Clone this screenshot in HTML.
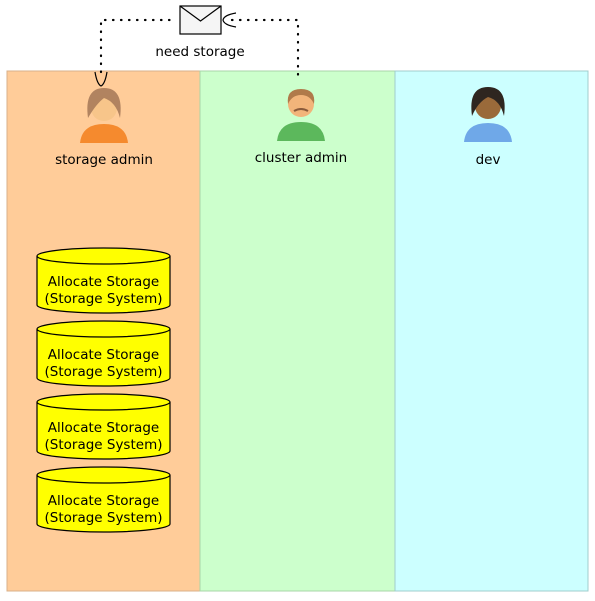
<!DOCTYPE html>
<html><head><meta charset="utf-8"><style>
html,body{margin:0;padding:0;background:#fff;}
svg{display:block;font-family:"DejaVu Sans","Liberation Sans",sans-serif;}
</style></head><body>
<svg width="595" height="601" viewBox="0 0 595 601" xmlns="http://www.w3.org/2000/svg">
<defs>
<g id="cyl">
<path d="M37,8 L37,57 A66.5,8 0 0 0 170,57 L170,8" fill="#ffff00" stroke="#000" stroke-width="1.2"/>
<ellipse cx="103.5" cy="8" rx="66.5" ry="8" fill="#ffff00" stroke="#000" stroke-width="1.2"/>
<text x="103.5" y="38" font-size="13.5" text-anchor="middle" fill="#000">Allocate Storage</text>
<text x="103.5" y="55" font-size="13.5" text-anchor="middle" fill="#000">(Storage System)</text>
</g>
</defs>
<rect x="7" y="71" width="193" height="520" fill="#ffcc99" stroke="#d9b08a"/>
<rect x="200" y="71" width="195" height="520" fill="#ccffcc" stroke="#a8d6a8"/>
<rect x="395" y="71" width="193" height="520" fill="#ccffff" stroke="#a0cccc"/>
<path d="M101,72 L101,20 L176,20" fill="none" stroke="#000" stroke-width="2.2" stroke-dasharray="0.5 7.5" stroke-linecap="round"/>
<path d="M232,20 L298,20 L298,80" fill="none" stroke="#000" stroke-width="2.2" stroke-dasharray="0.5 7.5" stroke-linecap="round"/>
<path d="M95,72 Q97,84 101,86 Q105,84 107,72" fill="none" stroke="#000" stroke-width="1.2"/>
<path d="M236,13 Q224,15 223,20 Q224,25 236,27" fill="none" stroke="#000" stroke-width="1.2"/>
<rect x="180" y="6" width="41" height="28" fill="#f5f5f5" stroke="#000" stroke-width="1.2"/>
<path d="M180,6 L200.5,21 L221,6" fill="none" stroke="#000" stroke-width="1.2"/>
<text x="200" y="56" font-size="13.5" text-anchor="middle">need storage</text>
<g>
<path d="M80,143 Q82,124 104,124 Q126,124 128,143 Z" fill="#f58a2e"/>
<circle cx="104" cy="108" r="13" fill="#f7c58a"/>
<path d="M88,118 Q84,88 104,88 Q124,88 120,118 Q116,102 104,98 Q96,104 88,118Z" fill="#a87b5a" opacity="0.9"/>
<text x="104" y="164" font-size="13.5" text-anchor="middle">storage admin</text>
</g>
<g>
<path d="M277,141 Q279,122 301,122 Q323,122 325,141 Z" fill="#5cb85c"/>
<circle cx="301" cy="104" r="13" fill="#f2b47a"/>
<path d="M288,104 Q286,89 301,89 Q316,89 314,104 Q310,95 301,95 Q292,95 288,104Z" fill="#b07a4a"/>
<path d="M294,111 Q301,107 308,111" fill="none" stroke="#8a5a3a" stroke-width="2"/>
<text x="301" y="162" font-size="13.5" text-anchor="middle">cluster admin</text>
</g>
<g>
<path d="M464,142 Q466,123 488,123 Q510,123 512,142 Z" fill="#6fa8e8"/>
<circle cx="488" cy="106" r="13" fill="#9a6a3a"/>
<path d="M472,116 Q468,87 488,87 Q508,87 504,116 Q500,100 488,97 Q478,102 472,116Z" fill="#2e2620"/>
<text x="488" y="164" font-size="13.5" text-anchor="middle">dev</text>
</g>
<use href="#cyl" y="248"/>
<use href="#cyl" y="321"/>
<use href="#cyl" y="394"/>
<use href="#cyl" y="467"/>
</svg>
</body></html>
